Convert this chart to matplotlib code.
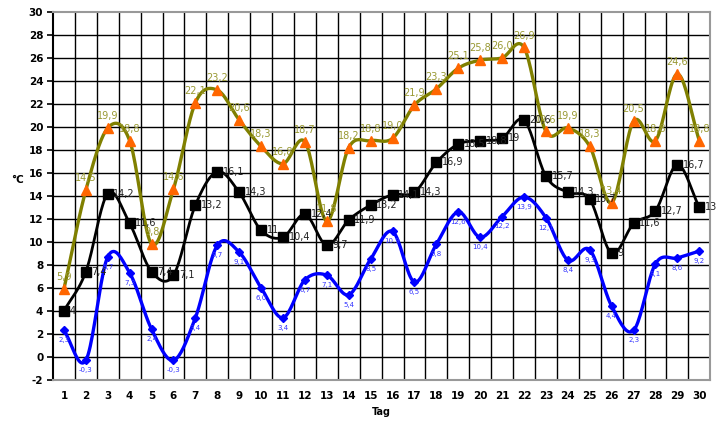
import numpy as np
import matplotlib
matplotlib.use("Agg")
import matplotlib.pyplot as plt

days = list(range(1, 31))
t_max = [5.9, 14.5, 19.9, 18.8, 9.8, 14.6, 22.1, 23.2, 20.6, 18.3,
         16.8, 18.7, 11.8, 18.2, 18.8, 19.0, 21.9, 23.3, 25.1, 25.8,
         26.0, 26.9, 19.6, 19.9, 18.3, 13.4, 20.5, 18.8, 24.6, 18.8]
t_mean = [4, 7.4, 14.2, 11.6, 7.4, 7.1, 13.2, 16.1, 14.3, 11,
          10.4, 12.4, 9.7, 11.9, 13.2, 14.1, 14.3, 16.9, 18.5, 18.8,
          19, 20.6, 15.7, 14.3, 13.7, 9, 11.6, 12.7, 16.7, 13]
t_min = [2.3, -0.3, 8.7, 7.3, 2.4, -0.3, 3.4, 9.7, 9.1, 6.0,
         3.4, 6.7, 7.1, 5.4, 8.5, 10.9, 6.5, 9.8, 12.6, 10.4,
         12.2, 13.9, 12.1, 8.4, 9.3, 4.4, 2.3, 8.1, 8.6, 9.2]


def smooth(x, y, n=20):
    # catmull-rom through the points, like excel's smoothed line
    x = np.asarray(x, float)
    y = np.asarray(y, float)
    px = np.concatenate([[2 * x[0] - x[1]], x, [2 * x[-1] - x[-2]]])
    py = np.concatenate([[2 * y[0] - y[1]], y, [2 * y[-1] - y[-2]]])
    xs, ys = [], []
    t = np.linspace(0, 1, n, endpoint=False)
    for i in range(1, len(px) - 2):
        for p, out in ((px, xs), (py, ys)):
            p0, p1, p2, p3 = p[i - 1], p[i], p[i + 1], p[i + 2]
            out.extend(0.5 * (2 * p1 + (-p0 + p2) * t
                              + (2 * p0 - 5 * p1 + 4 * p2 - p3) * t ** 2
                              + (-p0 + 3 * p1 - 3 * p2 + p3) * t ** 3))
    xs.append(x[-1]); ys.append(y[-1])
    return np.array(xs), np.array(ys)


def fmt1(v):
    return ("%.1f" % v).replace(".", ",")


def fmt_g(v):
    return ("%g" % v).replace(".", ",")


fig = plt.figure(figsize=(7.16, 4.23), dpi=100)
ax = fig.add_axes([0.074, 0.102, 0.918, 0.87])

# grid between days
for xv in np.arange(1.5, 30.5, 1):
    ax.axvline(xv, color="black", lw=1.0, zorder=1)
for yv in range(0, 30, 2):
    ax.axhline(yv, color="black", lw=1.0, zorder=1)

sx, sy = smooth(days, t_max)
ax.plot(sx, sy, color="#808000", lw=2.4, zorder=3)
ax.plot(days, t_max, ls="none", marker="^", ms=7.5, color="#FF6600", zorder=4)

sx, sy = smooth(days, t_mean)
ax.plot(sx, sy, color="black", lw=2.0, zorder=3)
ax.plot(days, t_mean, ls="none", marker="s", ms=6.5, color="black", zorder=4)

sx, sy = smooth(days, t_min)
ax.plot(sx, sy, color="#0000FF", lw=2.4, zorder=3)
ax.plot(days, t_min, ls="none", marker="D", ms=4.5, color="#0000FF", zorder=4)

for d, v in zip(days, t_max):
    ax.annotate(fmt1(v), (d, v), xytext=(0, 5), textcoords="offset points",
                ha="center", va="bottom", fontsize=7, color="#999933", zorder=5)
for d, v in zip(days, t_mean):
    ax.annotate(fmt_g(v), (d, v), xytext=(4, 0), textcoords="offset points",
                ha="left", va="center", fontsize=7, color="#222222", zorder=5)
for d, v in zip(days, t_min):
    ax.annotate(fmt1(v), (d, v), xytext=(0, -5), textcoords="offset points",
                ha="center", va="top", fontsize=5, color="#3333FF", zorder=5)

ax.set_xlim(0.5, 30.5)
ax.set_ylim(-2, 30)
ax.set_xticks(days)
ax.set_xticklabels([str(d) for d in days], fontsize=7.5, fontweight="bold")
ax.set_yticks(range(-2, 31, 2))
ax.set_yticklabels([str(v) for v in range(-2, 31, 2)], fontsize=7.5, fontweight="bold")
ax.tick_params(axis="x", length=0, pad=8)
ax.tick_params(axis="y", length=4, width=1.2, direction="out", pad=3)

for side in ("top", "right", "bottom"):
    ax.spines[side].set_color("#999999")
    ax.spines[side].set_linewidth(1.5)
ax.spines["left"].set_color("black")
ax.spines["left"].set_linewidth(1.5)

ax.set_xlabel("Tag", fontsize=7, fontweight="bold", labelpad=4)
fig.text(0.024, 0.575, "°C", fontsize=7.5, fontweight="bold", ha="center", va="center")

fig.savefig("out.png", dpi=100)
